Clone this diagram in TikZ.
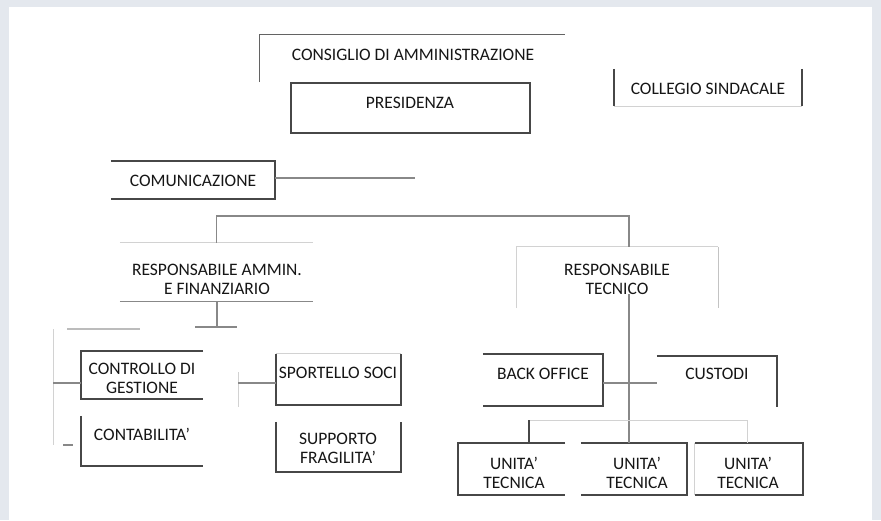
\documentclass[tikz,border=0pt]{standalone}
\usepackage{fontspec}
\setmainfont{Carlito}
\usetikzlibrary{calc}
\definecolor{pagebg}{HTML}{E4E8EE}
\definecolor{dk}{HTML}{474747}
\definecolor{md}{HTML}{888888}
\definecolor{lt}{HTML}{D2D2D2}
\definecolor{ink}{HTML}{161616}
\newcommand{\orgfont}{\fontsize{17.5}{19}\selectfont}
\tikzset{
  frame/.style={inner sep=0pt, draw=none},
  lbl/.style={font=\orgfont, text=ink, align=center, inner sep=0pt},
  side/.style={draw=dk, line width=1.8pt},
  link/.style={draw=md, line width=1.2pt},
  faint/.style={draw=lt, line width=1pt}
}
\begin{document}
\begin{tikzpicture}[x=1pt, y=-1pt]
    \useasboundingbox (0,0) rectangle (881,520);
    \fill[pagebg] (0,0) rectangle (881,520);
    \fill[white] (9,7) rectangle (872,520);

    % boxes
    \node[frame, minimum width=305pt, minimum height=47pt] (cda) at (412.5,58.5) {};
    \node[frame, minimum width=239pt, minimum height=50pt] (pres) at (410.5,108) {};
    \node[frame, minimum width=188pt, minimum height=37pt] (coll) at (708,87.5) {};
    \node[frame, minimum width=164pt, minimum height=38pt] (com) at (193,180) {};
    \node[frame, minimum width=193pt, minimum height=58pt] (ammin) at (216.5,272) {};
    \node[frame, minimum width=201pt, minimum height=61pt] (tecn) at (617.5,277.5) {};
    \node[frame, minimum width=122pt, minimum height=48pt] (ctrl) at (142,375) {};
    \node[frame, minimum width=122pt, minimum height=50pt] (cont) at (142,441) {};
    \node[frame, minimum width=125pt, minimum height=51pt] (sport) at (338.5,379.5) {};
    \node[frame, minimum width=125pt, minimum height=50pt] (supp) at (338.5,447) {};
    \node[frame, minimum width=120pt, minimum height=52pt] (back) at (543,380) {};
    \node[frame, minimum width=120pt, minimum height=51pt] (cust) at (717,381.5) {};
    \node[frame, minimum width=107pt, minimum height=52pt] (u1) at (511.5,469) {};
    \node[frame, minimum width=106pt, minimum height=52pt] (u2) at (634,469) {};
    \node[frame, minimum width=108pt, minimum height=52pt] (u3) at (749,469) {};

    % texts
    \node[lbl] (cda-t) at (413,55) {CONSIGLIO DI AMMINISTRAZIONE};
    \node[lbl] (pres-t) at (410,103) {PRESIDENZA};
    \node[lbl] (coll-t) at (708,89) {COLLEGIO SINDACALE};
    \node[lbl] (com-t) at (193,181) {COMUNICAZIONE};
    \node[lbl] (ammin-t) at (217,279) {RESPONSABILE AMMIN.\\E FINANZIARIO};
    \node[lbl] (tecn-t) at (617,279) {RESPONSABILE\\TECNICO};
    \node[lbl] (ctrl-t) at (142,378) {CONTROLLO DI\\GESTIONE};
    \node[lbl] (cont-t) at (142,434) {CONTABILITA'};
    \node[lbl] (sport-t) at (338,373) {SPORTELLO SOCI};
    \node[lbl] (supp-t) at (338,448.5) {SUPPORTO\\FRAGILITA'};
    \node[lbl] (back-t) at (543,374) {BACK OFFICE};
    \node[lbl] (cust-t) at (717,374) {CUSTODI};
    \node[lbl] (u1-t) at (514,472.5) {UNITA'\\TECNICA};
    \node[lbl] (u2-t) at (637,472.5) {UNITA'\\TECNICA};
    \node[lbl] (u3-t) at (748,472.5) {UNITA'\\TECNICA};

    % box sides (only the ones that show)
    \draw[link, draw=dk!85] (cda.south west) |- (cda.north east);
    \draw[side] (pres.north west) rectangle (pres.south east);
    \draw[side] (coll.north west) -- (coll.south west);
    \draw[side] (coll.north east) -- (coll.south east);
    \draw[faint] (coll.south west) -- (coll.south east);
    \draw[side] (com.north west) -| (com.south east) -- (com.south west);
    \draw[faint] (ammin.north west) -- (ammin.north east);
    \draw[link] (ammin.south west) -- (ammin.south east);
    \draw[faint] (tecn.south west) |- (tecn.north east);
    \draw[link, draw=lt!80!md] (tecn.north east) -- (tecn.south east);
    \draw[side] (ctrl.north east) -| (ctrl.south west) -- (ctrl.south east);
    \draw[side] (cont.north west) |- (cont.south east);
    \draw[faint] (sport.north west) -- (sport.north east);
    \draw[side] (sport.north west) |- (sport.south east) -- (sport.north east);
    \draw[side] (supp.north west) |- (supp.south east) -- (supp.north east);
    \draw[side] (back.north west) -| (back.south east) -- (back.south west);
    \draw[side] (cust.north west) -| (cust.south east);
    \draw[side] (u1.north east) -| (u1.south west) -- (u1.south east);
    \draw[side] (u2.north west) -| (u2.south east) -- (u2.south west);
    \draw[side] (u3.north west) -| (u3.south east) -- (u3.south west);
    \draw[faint] (u3.north west) -- (u3.south west);

    % connectors
    \coordinate (comend) at (415,178);
    \coordinate (bus) at (629,216);
    \coordinate (lbus) at (217,327);
    \coordinate (ubus) at (529,420);
    \draw[link] (com.east |- comend) -- (comend);
    \draw[link] (ammin.north) |- (bus) -- (bus |- tecn.north);
    \draw[link] (tecn-t.south -| bus) -- (u2.north -| bus);
    \draw[link] (back.east |- 0,383) -- (cust.west |- 0,383);
    \draw[faint] (ubus) -- (747,420) -- (u3.north -| 747,0);
    \draw[side] (ubus) -- (u1.north -| ubus);
    \draw[link] (ammin.south -| lbus) -- (lbus);
    \draw[link] ([xshift=-22pt]lbus) -- ([xshift=20pt]lbus);
    \draw[link, draw=lt!70!md, line width=2pt] (67,329) -- (140,329);
    \draw[faint] (53,329) -- (53,445);
    \draw[link] (53,383) -- (ctrl.west |- 73,383);
    \draw[link] (63,445) -- (73,445);
    \draw[faint] (238,372) -- (238,407);
    \draw[link] (238,383) -- (sport.west |- 238,383);
\end{tikzpicture}
\end{document}
